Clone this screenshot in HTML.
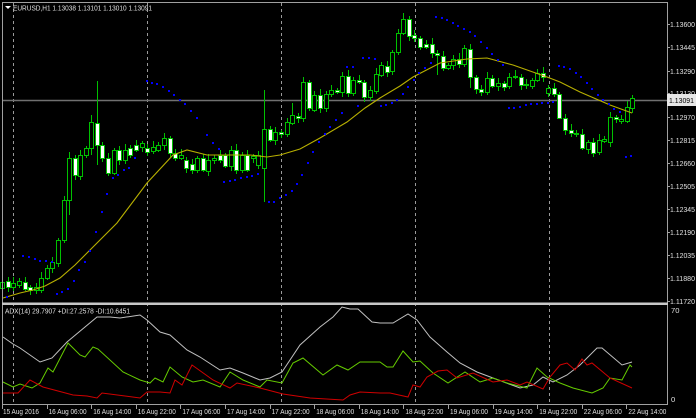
<!DOCTYPE html>
<html><head><meta charset="utf-8"><style>
html,body{margin:0;padding:0;background:#000;width:696px;height:418px;overflow:hidden}
svg{display:block}
text{font-family:"Liberation Sans",sans-serif;font-size:7.6px;fill:#e0e0e0}
</style></head><body>
<svg id="s" width="696" height="418" viewBox="0 0 696 418" xmlns="http://www.w3.org/2000/svg">
<rect width="696" height="418" fill="#000"/>
<g id="grid" stroke="#9a9a9a" stroke-width="1" stroke-dasharray="3,3">
<line x1="13.5" y1="3" x2="13.5" y2="405"/><line x1="147.5" y1="3" x2="147.5" y2="405"/><line x1="281.5" y1="3" x2="281.5" y2="405"/><line x1="415.5" y1="3" x2="415.5" y2="405"/><line x1="549.5" y1="3" x2="549.5" y2="405"/>
</g>
<line x1="2" y1="100.5" x2="667" y2="100.5" stroke="#707070" stroke-width="1.5"/>
<g id="main"></g>
<rect x="2.5" y="2.5" width="665" height="402" fill="none" stroke="#a0a0a0" stroke-width="1"/>
<rect x="2" y="302.5" width="666" height="2.5" fill="#c8c8c8"/>
<polygon points="5,6 11,6 8,9" fill="#fff"/>
<text x="13" y="10.5" textLength="139" lengthAdjust="spacingAndGlyphs">EURUSD,H1  1.13038 1.13101 1.13010 1.13091</text>
<text x="5" y="313.5" textLength="125" lengthAdjust="spacingAndGlyphs">ADX(14) 29.7907 +DI:27.2578 -DI:10.6451</text>
<g id="pax"></g>
<rect x="667" y="94" width="29" height="12" fill="#e6e6e6"/>
<text x="669" y="103" style="fill:#000" textLength="25" lengthAdjust="spacingAndGlyphs">1.13091</text>
<text x="671" y="313">70</text>
<text x="671" y="402">0</text>
<g id="tax"></g>
</svg>
<script>
var NS="http://www.w3.org/2000/svg";
function el(p,t,a){var e=document.createElementNS(NS,t);for(var k in a)e.setAttribute(k,a[k]);p.appendChild(e);return e;}
var main=document.getElementById('main');
var C=[[2,282,288,0],[8,281,287,1],[13,283,287,0],[19,281,285,0],[25,282,289,1],[30,287,290,1],[36,287,290,0],[41,278,290,0],[47,268,278,0],[52,262,268,0],[58,240,263,0],[64,200,240,0],[69,158,200,0],[75,158,175,1],[80,155,176,0],[86,148,155,0],[91,122,148,0],[97,123,145,1],[102,145,158,1],[108,158,173,1],[114,150,173,0],[119,150,160,1],[125,150,160,0],[130,148,155,1],[136,145,150,1],[142,143,147,0],[147,148,152,1],[153,147,151,0],[158,145,150,0],[164,138,145,0],[170,138,153,1],[175,153,158,1],[181,155,158,0],[186,160,168,1],[192,164,170,1],[197,158,170,0],[203,158,170,1],[208,160,171,0],[214,158,160,0],[220,155,160,1],[225,155,166,1],[231,150,166,0],[236,150,170,1],[242,155,170,0],[247,155,170,1],[253,156,158,0],[258,155,165,0],[264,129,168,0],[270,129,140,1],[275,132,140,0],
[281,132,134,1],[287,122,134,0],[292,115,123,0],[298,116,118,1],[303,82,118,0],[309,82,108,1],[314,95,110,0],[320,95,108,1],[326,94,108,0],[331,90,94,0],[337,90,92,1],[342,76,92,0],[348,76,93,1],[353,80,93,0],[359,80,82,1],[364,82,97,1],[370,90,97,0],[376,74,91,0],[381,65,75,0],[387,66,72,1],[392,52,71,0],[398,33,52,0],[403,19,33,0],[409,19,36,1],[414,35,38,1],[420,38,47,1],[426,44,47,1],[432,44,53,1],[437,53,55,1],[443,56,68,1],[448,65,68,0],[453,59,65,0],[459,59,64,1],[464,48,64,0],[470,49,77,1],[476,77,89,1],[481,89,92,1],[487,78,92,0],[492,78,86,1],[498,83,86,0],[504,83,87,1],[509,77,86,0],[515,76,77,1],[521,77,85,1],[526,84,85,0],[532,80,86,0],[537,73,80,0],[543,73,77,1],[548,88,93,0],[554,88,94,1],[559,94,118,1],[565,118,130,1],[571,130,133,1],[576,133,134,0],[582,134,148,1],[588,142,149,0],[593,142,153,1],[599,140,152,0],[604,139,141,0],[610,117,142,0],[616,117,119,1],[621,119,121,0],[627,107,121,0],[632,98,108,0]];
var SP={97:[81,165],91:[115,155],264:[90,202],69:[0,215],409:[16,0],559:[0,108],470:[0,88],292:[103,0],437:[0,75]};
C.forEach(function(c,i){var w=2+((i*7)%5),w2=2+((i*3)%4);var hi=c[1]-w,lo=c[2]+w2;if(SP[c[0]]){if(SP[c[0]][0])hi=SP[c[0]][0];if(SP[c[0]][1])lo=SP[c[0]][1];}
el(main,'line',{x1:c[0]+0.5,y1:hi,x2:c[0]+0.5,y2:lo,stroke:'#00c000','stroke-width':1});
var h=Math.max(1,c[2]-c[1]);
el(main,'rect',{x:c[0]-1.5,y:c[1]+0.5,width:4,height:h,fill:c[3]?'#ffffff':'#000',stroke:'#00c000','stroke-width':1});
});
function pl(p,pts,col,w){el(p,'polyline',{points:pts.map(function(a){return a.join(',')}).join(' '),fill:'none',stroke:col,'stroke-width':w||1});}
pl(main,[[3,298],[20,293],[33,290],[45,286],[60,278],[75,265],[90,250],[117,223],[147,183],[173,155],[187,150],[207,155],[250,155],[267,157],[280,155],[300,149],[320,138],[347,122],[365,108],[380,98],[400,86],[413,77],[440,63],[467,59],[487,58],[513,65],[547,77],[560,82],[580,92],[610,105],[632,113]],'#b8b000',1.1);
var D=[[7,297],[23,256],[29,257],[35,259],[40,261],[46,261],[52,262],[57,294],[62,292],[68,289],[74,281],[79,270],[85,262],[90,251],[96,232],[102,212],[107,194],[113,178],[118,175],[124,170],[129,168],[135,158],[147,81],[152,83],[157,84],[163,87],[169,91],[174,95],[180,100],[185,104],[191,111],[197,118],[207,135],[213,143],[219,149],[224,182],[230,181],[235,180],[241,178],[247,177],[252,176],[258,174],[269,202],[274,202],[280,198],[286,195],[292,191],[297,184],[302,175],[308,163],[313,152],[319,142],[325,134],[330,127],[336,120],[342,113],[347,67],[353,67],[363,58],[369,58],[375,59],[358,106],[381,106],[386,105],[392,103],[397,100],[403,94],[408,87],[414,80],[419,73],[425,68],[431,63],[436,17],[442,18],[447,20],[453,23],[458,26],[464,29],[470,32],[475,36],[481,42],[487,48],[492,54],[498,60],[503,65],[509,108],[514,108],[520,107],[526,105],[531,104],[537,104],[542,103],[548,103],[553,102],[559,66],[564,67],[570,69],[576,73],[581,77],[587,83],[592,89],[598,95],[603,100],[609,104],[614,109],[620,112],[626,157],[631,156]];
D.forEach(function(d){el(main,'rect',{x:d[0]-1,y:d[1]-1,width:2,height:2,fill:'#0000ff'});});
pl(main,[[3,337],[13,344],[20,348],[40,362],[52,358],[67,342],[97,317],[110,317],[120,318],[140,315],[147,320],[160,332],[170,335],[187,350],[200,357],[220,370],[230,368],[243,373],[260,380],[270,378],[282,372],[300,345],[320,327],[333,317],[342,307],[350,309],[358,309],[372,322],[380,323],[393,323],[408,314],[417,320],[430,337],[447,352],[460,363],[477,372],[493,378],[520,388],[533,385],[543,377],[553,382],[567,375],[580,365],[597,348],[602,348],[622,365],[632,362]],'#c0c0c0',1);
pl(main,[[3,382],[13,387],[20,384],[32,388],[40,383],[48,368],[53,372],[68,343],[80,355],[85,357],[93,347],[98,349],[123,372],[140,380],[150,383],[155,378],[163,382],[170,367],[182,377],[193,382],[203,380],[220,387],[230,372],[243,380],[260,387],[267,380],[282,383],[293,363],[303,358],[323,375],[337,365],[348,370],[360,362],[380,362],[387,367],[393,367],[403,351],[413,362],[420,361],[433,373],[448,383],[465,372],[480,382],[493,378],[507,383],[527,388],[537,368],[547,377],[560,383],[573,388],[592,393],[603,388],[610,378],[622,380],[630,365],[632,367]],'#66cc00',1);
pl(main,[[3,393],[18,393],[30,380],[43,387],[73,395],[87,396],[97,398],[102,393],[140,398],[147,392],[160,392],[170,393],[175,380],[182,385],[192,365],[213,380],[230,388],[237,383],[260,388],[283,394],[310,398],[343,400],[350,395],[360,392],[380,393],[390,393],[408,397],[413,385],[420,387],[427,377],[438,371],[447,370],[457,378],[473,373],[493,382],[507,380],[520,385],[527,382],[543,389],[550,377],[560,365],[567,363],[575,370],[582,359],[587,365],[592,363],[610,378],[632,388]],'#d00000',1);
var pax=document.getElementById('pax');
var P=[["1.13600",24],["1.13445",47],["1.13290",71],["1.13130",93],["1.12970",117],["1.12815",140],["1.12660",163],["1.12505",186],["1.12345",209],["1.12190",232],["1.12035",255],["1.11880",278],["1.11720",301]];
P.forEach(function(p){el(pax,'line',{x1:667,y1:p[1]+0.5,x2:670,y2:p[1]+0.5,stroke:'#a0a0a0'});var t=el(pax,'text',{x:670,y:p[1]+3,textLength:25,lengthAdjust:'spacingAndGlyphs'});t.textContent=p[0];});
var tax=document.getElementById('tax');
var T=["15 Aug 2016","16 Aug 06:00","16 Aug 14:00","16 Aug 22:00","17 Aug 06:00","17 Aug 14:00","17 Aug 22:00","18 Aug 06:00","18 Aug 14:00","18 Aug 22:00","19 Aug 06:00","19 Aug 14:00","19 Aug 22:00","22 Aug 06:00","22 Aug 14:00"];
T.forEach(function(s,i){var x=2+i*44.6;el(tax,'line',{x1:Math.round(x)+0.5,y1:405,x2:Math.round(x)+0.5,y2:409,stroke:'#a0a0a0'});var t=el(tax,'text',{x:(i==0?3:x+2),y:414,textLength:(i==0?36:38),lengthAdjust:'spacingAndGlyphs'});t.textContent=s;});
</script>
</body></html>
